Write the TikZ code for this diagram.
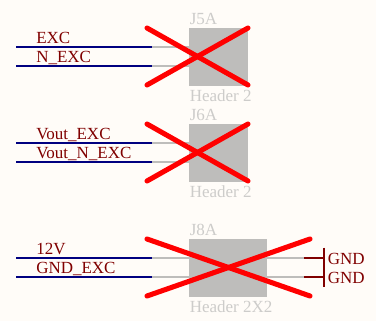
\documentclass[tikz,border=0pt]{standalone}
\usepackage{fontspec}
\setmainfont{Liberation Serif}
\definecolor{paper}{HTML}{FFFCF8}
\definecolor{netblue}{HTML}{000080}
\definecolor{netred}{HTML}{800000}
\definecolor{pingray}{HTML}{BEBDBB}
\definecolor{labelgray}{HTML}{CDCCCA}
\tikzset{
  netlabel/.style={anchor=base west, inner sep=0pt, text=netred, font=\fontsize{12.75}{14}\selectfont},
  partlabel/.style={anchor=base west, inner sep=0pt, text=labelgray, font=\fontsize{12.75}{14}\selectfont},
  headerbox/.style={anchor=north west, fill=pingray, inner sep=0pt},
  wire/.style={draw=netblue, line width=1.35pt},
  pinline/.style={draw=pingray, line width=1.35pt},
  gndline/.style={draw=netred, line width=1.35pt},
  crossout/.style={draw=red, line width=3.8pt, line cap=round}
}
\begin{document}
\begin{tikzpicture}[x=0.75pt,y=-0.75pt]
      \useasboundingbox[fill=paper] (0,0) rectangle (376,321);
      % J5A
      \begin{scope}
        \node[headerbox, minimum width=44.25pt, minimum height=43.8pt] (jfive) at (189,27.3) {};
        \node[partlabel] (jfivename) at (189.5,25) {J5A};
        \node[partlabel] (jfivetype) at (189.5,101.5) {Header 2};
        \node[netlabel] (exc) at (36,44) {EXC};
        \node[netlabel] (nexc) at (36,63) {N\_EXC};
        \coordinate (a0) at (16,47);
        \coordinate (a1) at (152,47);
        \coordinate (a2) at (189,47);
        \coordinate (b0) at (16,66);
        \coordinate (b1) at (152,66);
        \coordinate (b2) at (189,66);
        \draw[pinline] (a1) -- (a2);
        \draw[pinline] (b1) -- (b2);
        \draw[wire] (a0) -- (a1);
        \draw[wire] (b0) -- (b1);
        \coordinate (xa) at (147,28);
        \coordinate (xb) at (248,85);
        \coordinate (xc) at (147,85);
        \coordinate (xd) at (248,28);
        \draw[crossout] (xa) -- (xb);
        \draw[crossout] (xc) -- (xd);
      \end{scope}
      % J6A
      \begin{scope}[yshift=-72pt]
        \node[headerbox, minimum width=44.25pt, minimum height=43.8pt] (jsix) at (189,27.3) {};
        \node[partlabel] (jsixname) at (189.5,25) {J6A};
        \node[partlabel] (jsixtype) at (189.5,102) {Header 2};
        \node[netlabel] (vout) at (36,44) {Vout\_EXC};
        \node[netlabel] (voutn) at (36,63) {Vout\_N\_EXC};
        \coordinate (c0) at (16,47);
        \coordinate (c1) at (152,47);
        \coordinate (c2) at (189,47);
        \coordinate (d0) at (16,66);
        \coordinate (d1) at (152,66);
        \coordinate (d2) at (189,66);
        \draw[pinline] (c1) -- (c2);
        \draw[pinline] (d1) -- (d2);
        \draw[wire] (c0) -- (c1);
        \draw[wire] (d0) -- (d1);
        \coordinate (ya) at (147,28);
        \coordinate (yb) at (248,85);
        \coordinate (yc) at (147,85);
        \coordinate (yd) at (248,28);
        \draw[crossout] (ya) -- (yb);
        \draw[crossout] (yc) -- (yd);
      \end{scope}
      % J8A
      \begin{scope}[yshift=-158.25pt]
        \node[headerbox, minimum width=58.3pt, minimum height=43.8pt] (jeight) at (189,27.3) {};
        \node[partlabel] (jeightname) at (189.5,25) {J8A};
        \node[partlabel] (jeighttype) at (189.5,102) {Header 2X2};
        \node[netlabel] (twelve) at (36,44) {12V};
        \node[netlabel] (gndexc) at (36,63) {GND\_EXC};
        \node[netlabel] (gndone) at (327.5,54) {GND};
        \node[netlabel] (gndtwo) at (327.5,72.7) {GND};
        \coordinate (e0) at (16,47);
        \coordinate (e1) at (152,47);
        \coordinate (e2) at (189,47);
        \coordinate (e3) at (267,47);
        \coordinate (e4) at (304,47);
        \coordinate (e5) at (323.7,47);
        \coordinate (f0) at (16,66);
        \coordinate (f1) at (152,66);
        \coordinate (f2) at (189,66);
        \coordinate (f3) at (267,66);
        \coordinate (f4) at (304,66);
        \coordinate (f5) at (323.7,66);
        \coordinate (bartop) at (323.7,36.7);
        \coordinate (barbot) at (323.7,76.3);
        \draw[pinline] (e1) -- (e2);
        \draw[pinline] (f1) -- (f2);
        \draw[pinline] (e3) -- (e4);
        \draw[pinline] (f3) -- (f4);
        \draw[wire] (e0) -- (e1);
        \draw[wire] (f0) -- (f1);
        \draw[gndline] (e4) -- (e5);
        \draw[gndline] (f4) -- (f5);
        \draw[gndline] (bartop) -- (barbot);
        \coordinate (za) at (147,28);
        \coordinate (zb) at (310,85);
        \coordinate (zc) at (147,85);
        \coordinate (zd) at (310,28);
        \draw[crossout] (za) -- (zb);
        \draw[crossout] (zc) -- (zd);
      \end{scope}
    \end{tikzpicture}
\end{document}
